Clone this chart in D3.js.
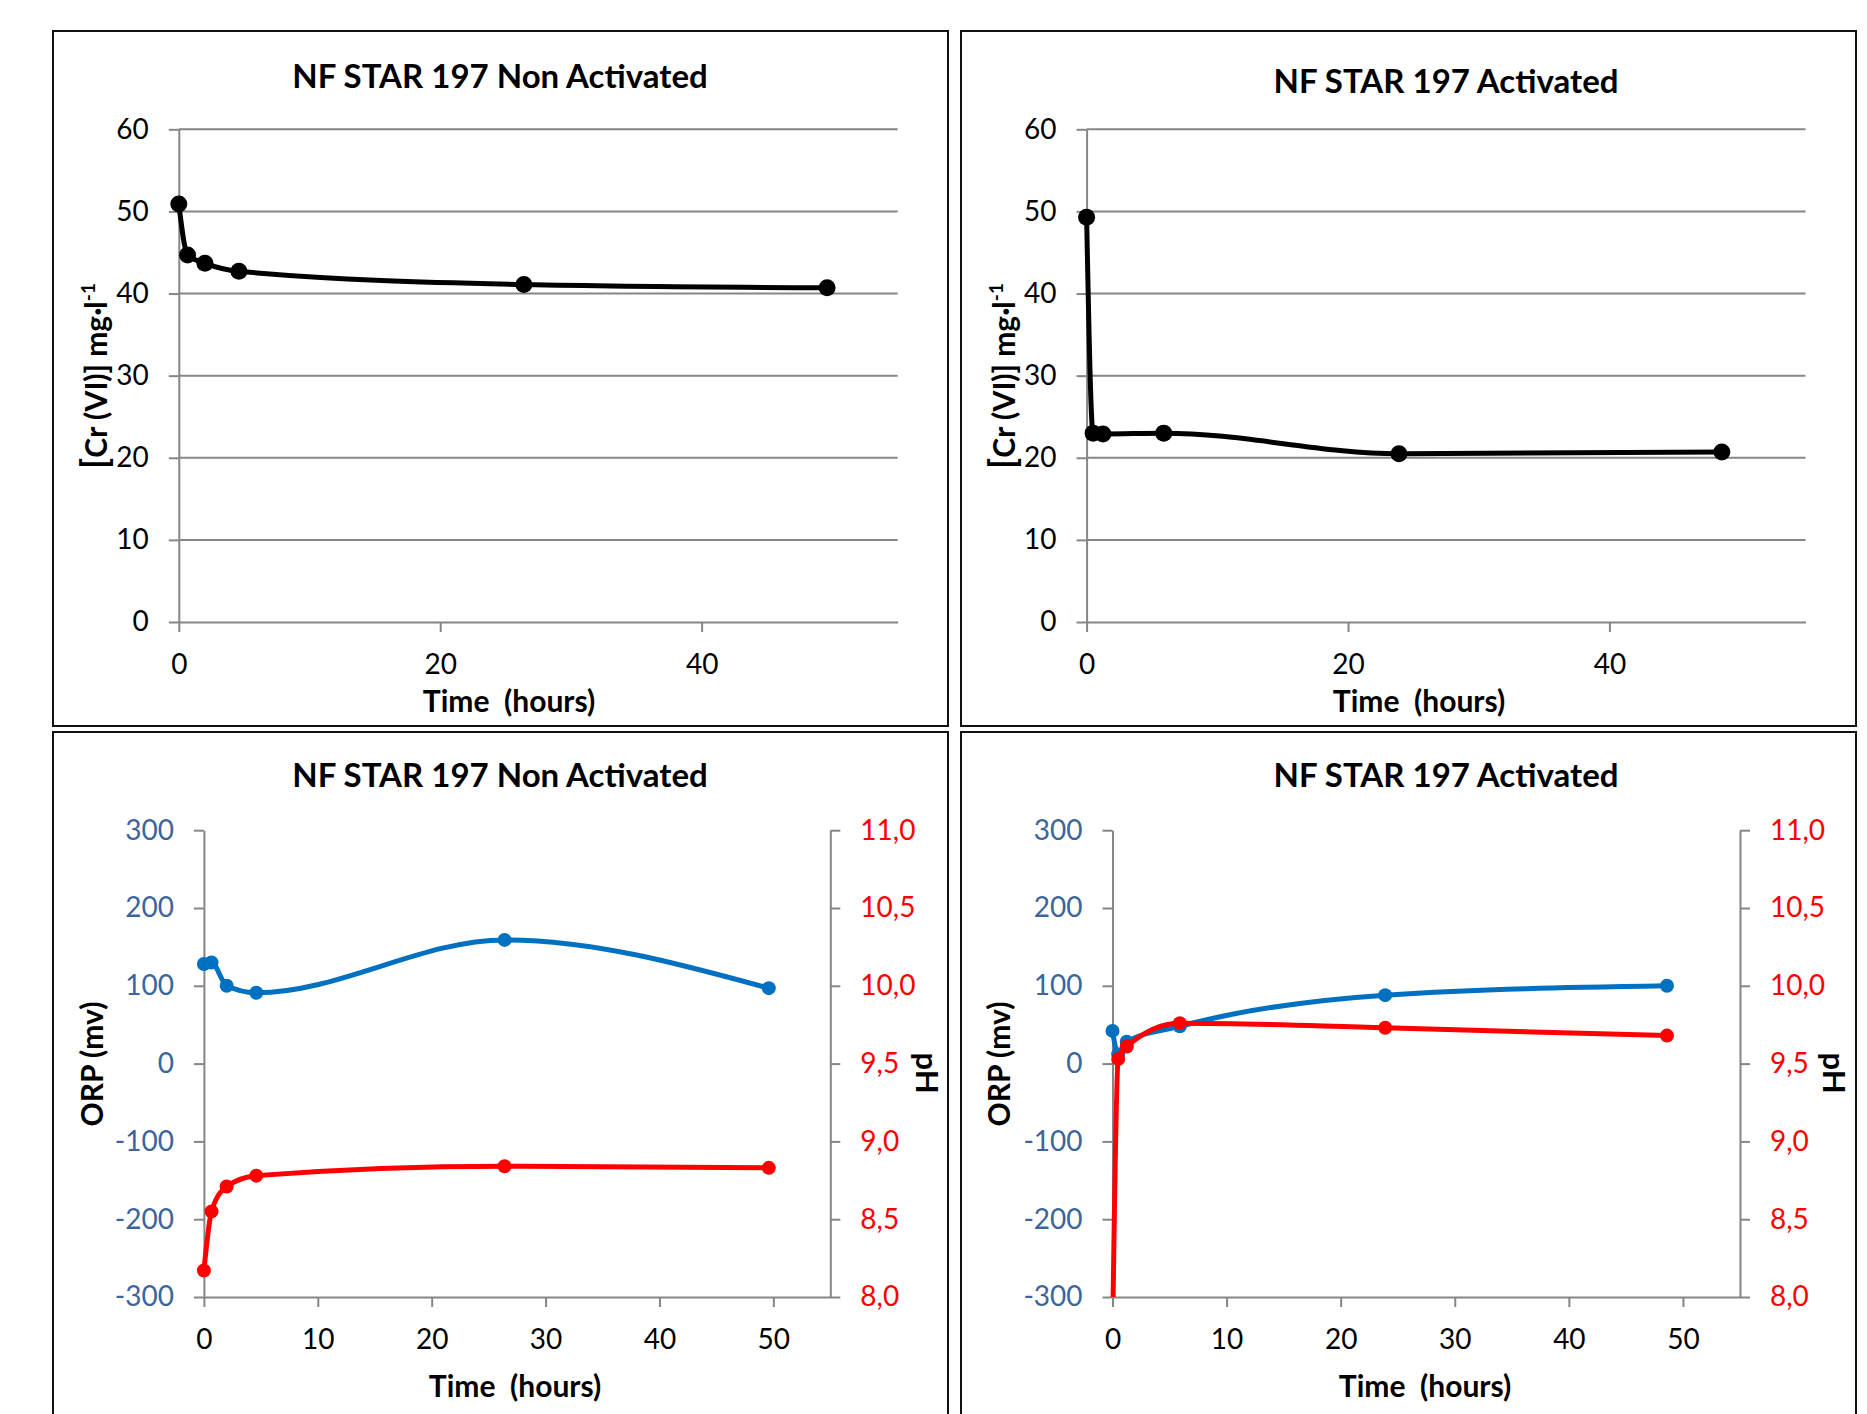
<!DOCTYPE html>
<html>
<head>
<meta charset="utf-8">
<script src="https://cdn.jsdelivr.net/npm/d3@7"></script>
<style>
  body { margin: 0; background: #fff; }
  svg text { font-family: Lato, "Open Sans", sans-serif; }
</style>
</head>
<body>
<script>
// data
var timeNonAct = [0, 0.67, 2, 4.6, 26.4, 49.6];
var timeAct = [0, 0.5, 1.25, 5.9, 23.9, 48.6];

var crNonAct = [50.9, 44.7, 43.7, 42.7, 41.1, 40.7];
var crAct = [49.3, 23.0, 22.9, 23.0, 20.5, 20.7];

var orpNonAct = [128, 130, 100, 91, 159, 97];
var phNonAct = [8.17, 8.55, 8.71, 8.78, 8.84, 8.83];
var orpAct = [42, 12, 28, 48, 88, 100];
var phAct = [7.7, 9.53, 9.61, 9.76, 9.73, 9.68];

var crTicks = [0, 10, 20, 30, 40, 50, 60];
var timeTicksTop = [0, 20, 40];
var timeTicksBottom = [0, 10, 20, 30, 40, 50];
var orpTicks = [-300, -200, -100, 0, 100, 200, 300];
var phTicks = [8.0, 8.5, 9.0, 9.5, 10.0, 10.5, 11.0];

var titleNon = "NF STAR 197 Non Activated";
var titleAct = "NF STAR 197 Activated";
var xTitle = "Time  (hours)";

var svgWidth = 1867;
var svgHeight = 1414;

var gridColor = "#868686";
var blue = "#0070C0";
var red = "#FF0000";
var orpLabelColor = "#3C659B";

var svg = d3.select("body").append("svg")
  .attr("width", svgWidth)
  .attr("height", svgHeight);

// panel frames
var frames = [
  {x: 53, y: 31, w: 895, h: 695},
  {x: 961, y: 31, w: 895, h: 695},
  {x: 53, y: 732, w: 895, h: 720},
  {x: 961, y: 732, w: 895, h: 720}
];
svg.selectAll("rect.frame")
  .data(frames)
  .enter().append("rect")
  .attr("class", "frame")
  .attr("x", d => d.x).attr("y", d => d.y)
  .attr("width", d => d.w).attr("height", d => d.h)
  .attr("fill", "none")
  .attr("stroke", "#111")
  .attr("stroke-width", 2);

function styleAxis(g) {
  g.select(".domain").attr("stroke", gridColor).attr("stroke-width", 2);
  g.selectAll(".tick line").attr("stroke", gridColor).attr("stroke-width", 2);
  g.selectAll(".tick text").attr("font-size", 28).attr("fill", "#000");
}

// plain hyphen for negatives, like the original
var fmtInt = d => String(d);

function smoothLine(x, y) {
  return d3.line()
    .x(d => x(d[0]))
    .y(d => y(d[1]))
    .curve(d3.curveMonotoneX);
}

// ---------- top charts: Cr(VI) concentration ----------
function crChart(opt) {
  var x = d3.scaleLinear().domain([0, 55]).range([opt.left, opt.right]);
  var y = d3.scaleLinear().domain([0, 60]).range([622, 129.3]);
  var g = svg.append("g");

  // gridlines
  g.selectAll("line.grid")
    .data(crTicks.slice(1))
    .enter().append("line")
    .attr("x1", opt.left).attr("x2", opt.right)
    .attr("y1", d => y(d)).attr("y2", d => y(d))
    .attr("stroke", gridColor).attr("stroke-width", 2);

  var yAxis = g.append("g")
    .attr("transform", `translate(${opt.left},0)`)
    .call(d3.axisLeft(y).tickValues(crTicks).tickFormat(fmtInt).tickSize(10).tickPadding(20).tickSizeOuter(0));
  styleAxis(yAxis);

  var xAxis = g.append("g")
    .attr("transform", `translate(0,${y(0)})`)
    .call(d3.axisBottom(x).tickValues(timeTicksTop).tickFormat(fmtInt).tickSize(10).tickPadding(22).tickSizeOuter(0));
  styleAxis(xAxis);

  var pts = opt.t.map((t, i) => [t, opt.v[i]]);
  g.append("path")
    .datum(pts)
    .attr("d", smoothLine(x, y))
    .attr("fill", "none")
    .attr("stroke", "#000")
    .attr("stroke-width", 5);
  g.selectAll("circle")
    .data(pts)
    .enter().append("circle")
    .attr("cx", d => x(d[0]))
    .attr("cy", d => y(d[1]))
    .attr("r", 8.5)
    .attr("fill", "#000");

  // titles
  g.append("text")
    .attr("x", opt.titleX).attr("y", opt.titleY)
    .attr("text-anchor", "middle")
    .attr("font-size", 33).attr("font-weight", "bold")
    .text(opt.title);
  g.append("text")
    .attr("x", opt.xTitleX).attr("y", 712)
    .attr("text-anchor", "middle")
    .attr("font-size", 30).attr("font-weight", "bold")
    .style("white-space", "pre")
    .text(xTitle);

  var yl = g.append("text")
    .attr("transform", `translate(${opt.yTitleX},376) rotate(-90)`)
    .attr("text-anchor", "middle")
    .attr("font-size", 30).attr("font-weight", "bold");
  yl.append("tspan").attr("font-size", 36).text("[");
  yl.append("tspan").text("Cr (VI)] mg·l");
  yl.append("tspan").attr("font-size", 19).attr("dy", -12).text("-1");
}

crChart({left: 178.8, right: 897.7, t: timeNonAct, v: crNonAct,
  title: titleNon, titleX: 500, titleY: 88, xTitleX: 509, yTitleX: 107});
crChart({left: 1086.6, right: 1805.5, t: timeAct, v: crAct,
  title: titleAct, titleX: 1446, titleY: 93, xTitleX: 1419, yTitleX: 1015});

// ---------- bottom charts: ORP and pH ----------
function orpChart(opt) {
  var x = d3.scaleLinear().domain([0, 55]).range([opt.left, opt.right]);
  var yL = d3.scaleLinear().domain([-300, 300]).range([1297, 830.2]);
  var yR = d3.scaleLinear().domain([8, 11]).range([1297, 830.2]);
  var g = svg.append("g");

  // plot area clip (values outside the axis range are cut off)
  svg.append("clipPath").attr("id", opt.id)
    .append("rect")
    .attr("x", opt.left - 12).attr("y", 820)
    .attr("width", opt.right - opt.left + 24).attr("height", 1297 - 820);

  var left = g.append("g")
    .attr("transform", `translate(${opt.left},0)`)
    .call(d3.axisLeft(yL).tickValues(orpTicks).tickFormat(fmtInt).tickSize(10).tickPadding(20).tickSizeOuter(0));
  styleAxis(left);
  left.selectAll(".tick text").attr("fill", orpLabelColor);

  var right = g.append("g")
    .attr("transform", `translate(${opt.right},0)`)
    .call(d3.axisRight(yR).tickValues(phTicks).tickSize(10).tickPadding(20).tickSizeOuter(0)
      .tickFormat(d => d3.format(".1f")(d).replace(".", ",")));
  styleAxis(right);
  right.selectAll(".tick text").attr("fill", red);

  var bottom = g.append("g")
    .attr("transform", `translate(0,1297)`)
    .call(d3.axisBottom(x).tickValues(timeTicksBottom).tickFormat(fmtInt).tickSize(10).tickPadding(22).tickSizeOuter(0));
  styleAxis(bottom);

  var plot = g.append("g").attr("clip-path", `url(#${opt.id})`);

  function series(vals, yScale, color) {
    var pts = opt.t.map((t, i) => [t, vals[i]]);
    plot.append("path")
      .datum(pts)
      .attr("d", smoothLine(x, yScale))
      .attr("fill", "none")
      .attr("stroke", color)
      .attr("stroke-width", 5);
    plot.selectAll(null)
      .data(pts)
      .enter().append("circle")
      .attr("cx", d => x(d[0]))
      .attr("cy", d => yScale(d[1]))
      .attr("r", 7)
      .attr("fill", color);
  }
  series(opt.orp, yL, blue);
  series(opt.ph, yR, red);

  g.append("text")
    .attr("x", opt.titleX).attr("y", 787)
    .attr("text-anchor", "middle")
    .attr("font-size", 33).attr("font-weight", "bold")
    .text(opt.title);
  g.append("text")
    .attr("x", opt.xTitleX).attr("y", 1397)
    .attr("text-anchor", "middle")
    .attr("font-size", 30).attr("font-weight", "bold")
    .style("white-space", "pre")
    .text(xTitle);
  g.append("text")
    .attr("transform", `translate(${opt.orpX},1064) rotate(-90)`)
    .attr("text-anchor", "middle")
    .attr("font-size", 30).attr("font-weight", "bold")
    .text("ORP (mv)");
  g.append("text")
    .attr("transform", `translate(${opt.phX},1073) rotate(90)`)
    .attr("text-anchor", "middle")
    .attr("font-size", 31).attr("font-weight", "bold")
    .text("pH");
}

orpChart({id: "clipNon", left: 203.9, right: 830.3, t: timeNonAct, orp: orpNonAct, ph: phNonAct,
  title: titleNon, titleX: 500, xTitleX: 515, orpX: 103, phX: 916});
orpChart({id: "clipAct", left: 1112.5, right: 1740, t: timeAct, orp: orpAct, ph: phAct,
  title: titleAct, titleX: 1446, xTitleX: 1425, orpX: 1010, phX: 1823});
</script>
</body>
</html>
